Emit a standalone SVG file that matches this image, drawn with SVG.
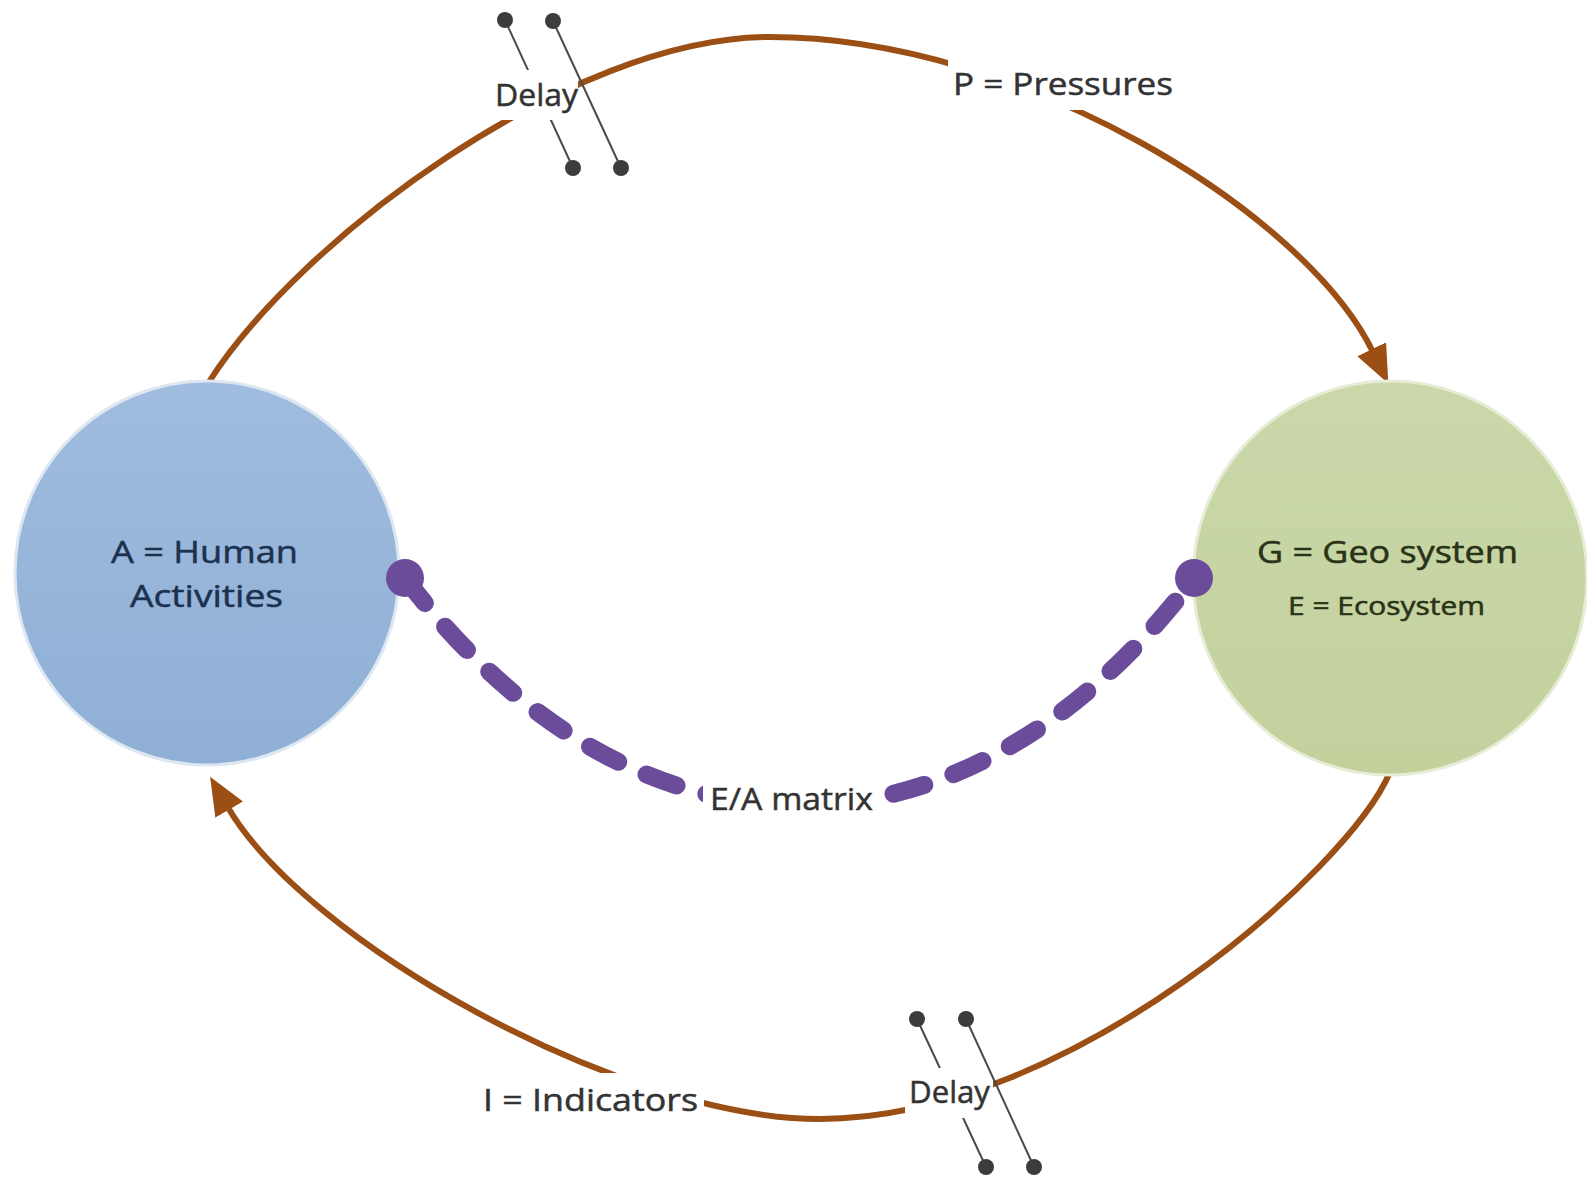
<svg xmlns="http://www.w3.org/2000/svg" width="1587" height="1178" viewBox="0 0 1587 1178">
  <defs>
    <style>
      .flow { fill: none; stroke: #9b4f15; stroke-width: 6; stroke-linecap: butt; }
      .link { fill: none; stroke: #6b4c9a; stroke-width: 18; stroke-linecap: round; stroke-dasharray: 32 31; }
      .end { fill: #6b4c9a; }
      .hatch { stroke: #4a4a4a; stroke-width: 2; fill: none; }
      .pin { fill: #3c3c3c; }
      .mask { fill: #ffffff; }
      .lbl { font-family: "Open Sans", "Liberation Sans", sans-serif; font-size: 31px; fill: #333333; stroke: #333333; stroke-width: 0.5; }
      .nodeA { font-family: "Open Sans", "Liberation Sans", sans-serif; font-size: 31px; fill: #1c3150; stroke: #1c3150; stroke-width: 0.5; }
      .nodeG { font-family: "Open Sans", "Liberation Sans", sans-serif; fill: #2a3217; stroke: #2a3217; stroke-width: 0.5; }
    </style>
    <linearGradient id="gradA" x1="0" y1="0" x2="0" y2="1">
      <stop offset="0" stop-color="#a0bcde"/>
      <stop offset="1" stop-color="#8fafd5"/>
    </linearGradient>
    <linearGradient id="gradG" x1="0" y1="0" x2="0" y2="1">
      <stop offset="0" stop-color="#cad8aa"/>
      <stop offset="1" stop-color="#c2d19c"/>
    </linearGradient>
    <marker id="arrowhead" markerUnits="userSpaceOnUse" markerWidth="38" markerHeight="32" viewBox="0 0 38 32" refX="3" refY="16" orient="auto">
      <path d="M0,0 L38,16 L0,32 Z" fill="#9b4f15"/>
    </marker>
  </defs>

  <rect width="1587" height="1178" fill="#ffffff"/>

  <!-- feedback loop: pressures on top, indicators below -->
  <g id="connectors">
    <path id="edge-pressures" class="flow" d="M207,385 C297,241 570,37 770,37 C1020,37 1305,212 1373,352" marker-end="url(#arrowhead)"/>
    <path id="edge-indicators" class="flow" d="M1390,772 C1350,868 1070,1119 820,1119 C620,1119 305,940 227.7,807" marker-end="url(#arrowhead)"/>
  </g>

  <g id="node-A">
    <circle cx="207" cy="573" r="192" fill="url(#gradA)" stroke="#dde7f2" stroke-width="3"/>
    <text class="nodeA" x="111" y="563" textLength="187" lengthAdjust="spacingAndGlyphs">A = Human</text>
    <text class="nodeA" x="130" y="607" textLength="153" lengthAdjust="spacingAndGlyphs">Activities</text>
  </g>

  <g id="node-G">
    <circle cx="1390" cy="578" r="197" fill="url(#gradG)" stroke="#e6ecd6" stroke-width="3"/>
    <text class="nodeG" x="1257" y="563" font-size="31" textLength="261" lengthAdjust="spacingAndGlyphs">G = Geo system</text>
    <text class="nodeG" x="1288" y="615" font-size="25" textLength="197" lengthAdjust="spacingAndGlyphs">E = Ecosystem</text>
  </g>

  <!-- E/A matrix link between the two systems -->
  <g id="connector-matrix">
    <path class="link" d="M405,578 C635,881 964,881 1194,578"/>
    <circle class="end" cx="405" cy="578" r="19"/>
    <circle class="end" cx="1194" cy="578" r="19"/>
    <rect class="mask" x="703" y="776" width="170" height="44"/>
    <text class="lbl" x="710" y="810" textLength="163" lengthAdjust="spacingAndGlyphs">E/A matrix</text>
  </g>

  <g id="label-pressures">
    <rect class="mask" x="948" y="55" width="232" height="55"/>
    <text class="lbl" x="953" y="95" textLength="220" lengthAdjust="spacingAndGlyphs">P = Pressures</text>
  </g>

  <g id="label-indicators">
    <rect class="mask" x="478" y="1073" width="226" height="52"/>
    <text class="lbl" x="483" y="1111" font-size="33" textLength="215" lengthAdjust="spacingAndGlyphs">I = Indicators</text>
  </g>

  <!-- delay symbols: two slanted pins, the first one broken by the label -->
  <g id="delay-top">
    <line class="hatch" x1="505" y1="20" x2="573" y2="168"/>
    <circle class="pin" cx="505" cy="20" r="8"/>
    <circle class="pin" cx="573" cy="168" r="8"/>
    <rect class="mask" x="486" y="70" width="92" height="50"/>
    <text class="lbl" x="495" y="106" textLength="83" lengthAdjust="spacingAndGlyphs">Delay</text>
    <line class="hatch" x1="553" y1="21" x2="621" y2="168"/>
    <circle class="pin" cx="553" cy="21" r="8"/>
    <circle class="pin" cx="621" cy="168" r="8"/>
  </g>

  <g id="delay-bottom">
    <line class="hatch" x1="917" y1="1019" x2="986" y2="1167"/>
    <circle class="pin" cx="917" cy="1019" r="8"/>
    <circle class="pin" cx="986" cy="1167" r="8"/>
    <rect class="mask" x="905" y="1068" width="88" height="50"/>
    <text class="lbl" x="909" y="1103" textLength="81" lengthAdjust="spacingAndGlyphs">Delay</text>
    <line class="hatch" x1="966" y1="1019" x2="1034" y2="1167"/>
    <circle class="pin" cx="966" cy="1019" r="8"/>
    <circle class="pin" cx="1034" cy="1167" r="8"/>
  </g>
</svg>
